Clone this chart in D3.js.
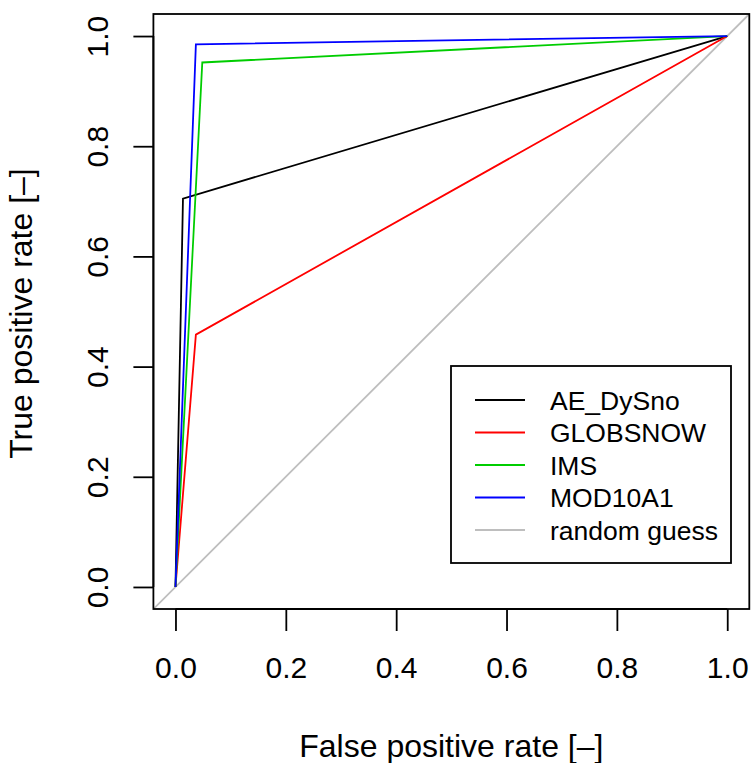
<!DOCTYPE html>
<html><head><meta charset="utf-8">
<script src="https://cdn.jsdelivr.net/npm/d3@7"></script>
<style>body{margin:0;background:#fff}svg{display:block}text{font-family:"Liberation Sans",Arial,sans-serif;fill:#000}</style>
</head><body>
<script>
const seriesNames = ["AE_DySno", "GLOBSNOW", "IMS", "MOD10A1"];
const seriesColors = ["#000000", "#FF0000", "#00CD00", "#0000FF"];
const fpr_AE = [0, 0.0136, 1];
const tpr_AE = [0, 0.705, 1];
const fpr_GLOB = [0, 0.037, 1];
const tpr_GLOB = [0, 0.458, 1];
const fpr_IMS = [0, 0.0486, 1];
const tpr_IMS = [0, 0.952, 1];
const fpr_MOD = [0, 0.037, 1];
const tpr_MOD = [0, 0.985, 1];
const randomName = "random guess";
const randomColor = "#BEBEBE";
const ticks = [0, 0.2, 0.4, 0.6, 0.8, 1.0];
const xTitle = "False positive rate [\u2013]";
const yTitle = "True positive rate [\u2013]";

const W = 754, H = 763;
const box = {l: 153.4, r: 749.3, t: 14, b: 609};
const x = d3.scaleLinear().domain([-0.04, 1.04]).range([box.l, box.r]);
const y = d3.scaleLinear().domain([-0.04, 1.04]).range([box.b, box.t]);
const SW = 1.8;

const svg = d3.select("body").append("svg").attr("width", W).attr("height", H);
svg.append("defs").append("clipPath").attr("id", "clip")
  .append("rect").attr("x", box.l).attr("y", box.t).attr("width", box.r - box.l).attr("height", box.b - box.t);

const plot = svg.append("g").attr("clip-path", "url(#clip)");
plot.append("line")
  .attr("x1", x(-0.04)).attr("y1", y(-0.04)).attr("x2", x(1.04)).attr("y2", y(1.04))
  .attr("stroke", randomColor).attr("stroke-width", SW);

const fprs = [fpr_AE, fpr_GLOB, fpr_IMS, fpr_MOD];
const tprs = [tpr_AE, tpr_GLOB, tpr_IMS, tpr_MOD];
const line = d3.line().x(d => x(d[0])).y(d => y(d[1]));
seriesNames.forEach((n, i) => {
  const pts = fprs[i].map((v, j) => [v, tprs[i][j]]);
  plot.append("path").attr("d", line(pts)).attr("fill", "none")
    .attr("stroke", seriesColors[i]).attr("stroke-width", SW).attr("stroke-linejoin", "miter");
});

// axes
const xAxis = d3.axisBottom(x).tickValues(ticks).tickFormat(d3.format(".1f")).tickSize(22).tickPadding(26);
const gx = svg.append("g").attr("transform", `translate(0,${box.b})`).call(xAxis);
gx.select(".domain").attr("d", `M${x(0)},0H${x(1)}`).attr("stroke-width", SW);
gx.selectAll(".tick line").attr("stroke-width", SW);
gx.selectAll(".tick text").attr("font-size", 30).attr("font-family", "Liberation Sans, Arial, sans-serif");

const yAxis = d3.axisLeft(y).tickValues(ticks).tickFormat(d3.format(".1f")).tickSize(20);
const gy = svg.append("g").attr("transform", `translate(${box.l},0)`).call(yAxis);
gy.select(".domain").attr("d", `M0,${y(0)}V${y(1)}`).attr("stroke-width", SW);
gy.selectAll(".tick line").attr("stroke-width", SW);
gy.selectAll(".tick text").attr("font-size", 30).attr("font-family", "Liberation Sans, Arial, sans-serif")
  .attr("x", null).attr("dy", null).attr("text-anchor", "middle")
  .attr("transform", `translate(${108 - box.l},0) rotate(-90)`);

// box
svg.append("rect").attr("x", box.l).attr("y", box.t).attr("width", box.r - box.l).attr("height", box.b - box.t)
  .attr("fill", "none").attr("stroke", "#000").attr("stroke-width", SW);

// titles
svg.append("text").attr("x", (box.l + box.r) / 2).attr("y", 757).attr("text-anchor", "middle")
  .attr("font-size", 32).text(xTitle);
svg.append("text").attr("transform", `translate(32,${(box.t + box.b) / 2 + 2}) rotate(-90)`)
  .attr("text-anchor", "middle").attr("font-size", 32).text(yTitle);

// legend
const lg = svg.append("g");
lg.append("rect").attr("x", 451).attr("y", 366).attr("width", 280).attr("height", 197)
  .attr("fill", "#fff").attr("stroke", "#000").attr("stroke-width", SW);
const legNames = seriesNames.concat([randomName]);
const legColors = seriesColors.concat([randomColor]);
legNames.forEach((n, i) => {
  const yy = 400 + i * 32.5;
  lg.append("line").attr("x1", 475).attr("x2", 525).attr("y1", yy).attr("y2", yy)
    .attr("stroke", legColors[i]).attr("stroke-width", SW);
  lg.append("text").attr("x", 550).attr("y", yy + 9.5).attr("font-size", 26.5).text(n);
});
</script>
</body></html>
